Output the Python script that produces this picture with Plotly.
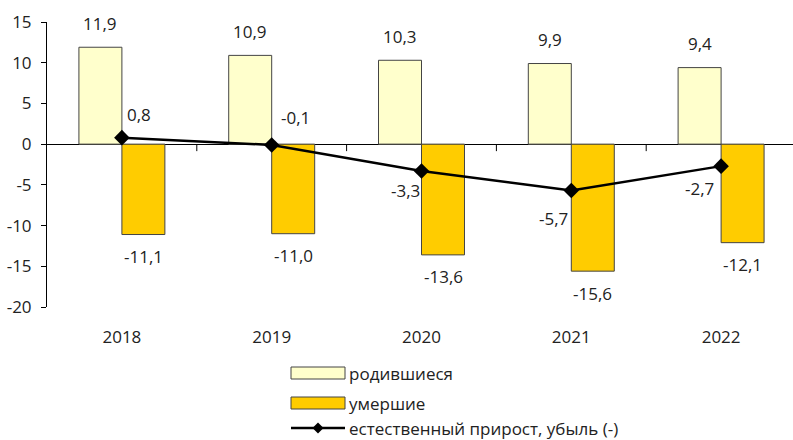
import plotly.graph_objects as go

years = ["2018", "2019", "2020", "2021", "2022"]
births = [11.9, 10.9, 10.3, 9.9, 9.4]
deaths = [-11.1, -11.0, -13.6, -15.6, -12.1]
natural = [0.8, -0.1, -3.3, -5.7, -2.7]
y_ticks = [15, 10, 5, 0, -5, -10, -15, -20]

def fmt(v):
    return f"{v:.1f}".replace(".", ",")

FONT = "Open Sans"
TXT = "#222222"
FS = 17

W, H = 793, 440
ML, MR, MT, MB = 47, 0, 22, 133
PW = W - ML - MR
PH = H - MT - MB
Y_MIN, Y_MAX = -20, 15

def px(x):
    return (x - ML) / PW

def py(y):
    return (H - MB - y) / PH

fig = go.Figure()
fig.add_trace(go.Bar(x=years, y=births, name="родившиеся",
                     marker=dict(color="#FFFFCC", line=dict(color="#444444", width=1))))
fig.add_trace(go.Bar(x=years, y=deaths, name="умершие",
                     marker=dict(color="#FFCC00", line=dict(color="#444444", width=1))))
fig.add_trace(go.Scatter(x=years, y=natural, mode="lines+markers",
                         name="естественный прирост, убыль (-)",
                         line=dict(color="black", width=2.5),
                         marker=dict(symbol="diamond", size=12, color="black")))

annotations = []
for i in range(len(years)):
    annotations.append(dict(x=i, y=births[i], xref="x", yref="y", text=fmt(births[i]), showarrow=False,
                            xshift=-21.5, yshift=24, font=dict(size=FS, color=TXT, family=FONT)))
    annotations.append(dict(x=i, y=deaths[i], xref="x", yref="y", text=fmt(deaths[i]), showarrow=False,
                            xshift=21.5, yshift=-22, font=dict(size=FS, color=TXT, family=FONT)))

line_offsets = [(17, 23), (24, 27), (-16, -19), (-18, -28), (-22, -22)]
for i in range(len(years)):
    dx, dy = line_offsets[i]
    annotations.append(dict(x=i, y=natural[i], xref="x", yref="y", text=fmt(natural[i]), showarrow=False,
                            xshift=dx, yshift=dy, font=dict(size=FS, color=TXT, family=FONT)))

shapes = []
# category boundary ticks on zero line (7 px long)
tick_len_units = 7 * (Y_MAX - Y_MIN) / PH
for i in range(len(years) - 1):
    shapes.append(dict(type="line", xref="x", yref="y",
                       x0=i + 0.5, x1=i + 0.5, y0=0, y1=-tick_len_units,
                       line=dict(color="black", width=1)))

# custom legend
leg_items = [
    ("родившиеся", "#FFFFCC", 373),
    ("умершие", "#FFCC00", 403),
]
for name, col, cy in leg_items:
    shapes.append(dict(type="rect", xref="paper", yref="paper",
                       x0=px(291), x1=px(345), y0=py(cy - 6), y1=py(cy + 6),
                       fillcolor=col, line=dict(color="#444444", width=1)))
    annotations.append(dict(xref="paper", yref="paper", x=px(347), y=py(cy), text=name,
                            xanchor="left", yanchor="middle", showarrow=False,
                            font=dict(size=FS, color=TXT, family=FONT)))
cy = 428
shapes.append(dict(type="line", xref="paper", yref="paper",
                   x0=px(291), x1=px(345), y0=py(cy), y1=py(cy),
                   line=dict(color="black", width=2.5)))
d = 5.5
shapes.append(dict(type="path", xref="paper", yref="paper",
                   path=f"M {px(318)} {py(cy-d)} L {px(318+d)} {py(cy)} L {px(318)} {py(cy+d)} L {px(318-d)} {py(cy)} Z",
                   fillcolor="black", line=dict(color="black", width=0)))
annotations.append(dict(xref="paper", yref="paper", x=px(347), y=py(cy),
                        text="естественный прирост, убыль (-)",
                        xanchor="left", yanchor="middle", showarrow=False,
                        font=dict(size=FS, color=TXT, family=FONT)))

fig.update_layout(
    width=W, height=H,
    margin=dict(l=ML, r=MR, t=MT, b=MB),
    paper_bgcolor="white", plot_bgcolor="white",
    barmode="group", bargap=0.426, bargroupgap=0,
    showlegend=False,
    font=dict(family=FONT, size=FS, color=TXT),
    xaxis=dict(type="category", range=[-0.5, 4.48], showline=False, showgrid=False,
               zeroline=False, ticks="outside", ticklen=15, tickcolor="rgba(0,0,0,0)",
               tickfont=dict(size=FS, color=TXT, family=FONT)),
    yaxis=dict(range=[Y_MIN, Y_MAX], tickvals=y_ticks, ticktext=[str(v) for v in y_ticks],
               showline=True, linecolor="black", linewidth=1,
               ticks="outside", ticklen=5, tickcolor="black", ticklabelstandoff=6,
               showgrid=False, zeroline=True, zerolinecolor="black", zerolinewidth=1,
               tickfont=dict(size=FS, color=TXT, family=FONT)),
    annotations=annotations,
    shapes=shapes,
)

fig.write_html("out.html", config={"displayModeBar": False},
               post_script="document.body.style.margin='0px';")
